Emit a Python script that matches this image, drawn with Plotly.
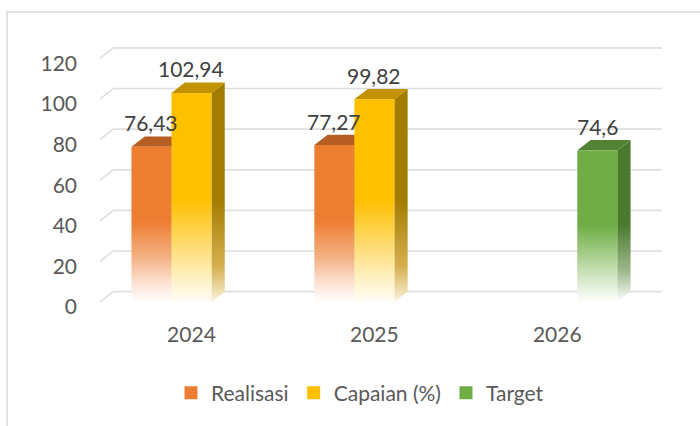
import plotly.graph_objects as go

# ---------------- data ----------------
years = ["2024", "2025", "2026"]
series_names = ["Realisasi", "Capaian (%)", "Target"]
realisasi = [76.43, 77.27, None]
capaian = [102.94, 99.82, None]
target = [None, None, 74.6]
y_ticks = [0, 20, 40, 60, 80, 100, 120]

# ---------------- styles / geometry ----------------
FONT = "Lato, Calibri, 'Noto Sans', sans-serif"
ML, MR, MT, MB = 100, 33, 38, 124
W, H = 700, 426
PW, PH = W - ML - MR, H - MT - MB
PX_PER_CAT = PW / 3.1
PX_PER_UNIT = PH / 130.0
BAR_W = 40.0 / PX_PER_CAT          # bar width in category units
DX = 13.3 / PX_PER_CAT             # 3D depth, x (category units)
DY = 10.4 / PX_PER_UNIT            # 3D depth, y (value units)


def px_to_paper_x(px):
    return (px - ML) / PW


def px_to_paper_y(py):
    return (H - MB - py) / PH


styles = [
    dict(front="#ED7D31", top="#B55D22", side="#A9561D", stop=40,
         scale=[[0, "#FFFFFF"], [0.25, "#FBE0CF"], [0.55, "#F4B183"], [1, "#ED7D31"]],
         sscale=[[0, "#FFFFFF"], [0.4, "#E2B08E"], [1, "#A9561D"]]),
    dict(front="#FFC000", top="#C29200", side="#A47C00", stop=50,
         scale=[[0, "#FFFDF6"], [0.25, "#FFF0BF"], [0.6, "#FFD966"], [1, "#FFC000"]],
         sscale=[[0, "#FBF3DC"], [0.35, "#D6B050"], [1, "#A47C00"]]),
    dict(front="#70AD47", top="#548235", side="#4A7A2E", stop=38,
         scale=[[0, "#FFFFFF"], [0.3, "#D5E8C8"], [0.65, "#A0CA82"], [1, "#70AD47"]],
         sscale=[[0, "#FFFFFF"], [0.4, "#9DB98B"], [1, "#4A7A2E"]]),
]

all_series = [realisasi, capaian, target]
cat_pos = list(range(len(years)))

fig = go.Figure()

for si, (name, vals, st) in enumerate(zip(series_names, all_series, styles)):
    fx, fy, sx, sy, tx, ty = [], [], [], [], [], []
    for c, v in zip(cat_pos, vals):
        if v is None:
            continue
        xl = c - 1.5 * BAR_W + si * BAR_W
        xr = xl + BAR_W
        fx += [xl, xr, xr, xl, xl, None]
        fy += [0, 0, v, v, 0, None]
        sx += [xr, xr + DX, xr + DX, xr, xr, None]
        sy += [0, DY, v + DY, v, 0, None]
        tx += [xl, xr, xr + DX, xl + DX, xl, None]
        ty += [v, v, v + DY, v + DY, v, None]
    fig.add_trace(go.Scatter(
        x=sx, y=sy, mode="lines", fill="toself", line=dict(width=0),
        fillgradient=dict(type="vertical", colorscale=st["sscale"], start=0, stop=st["stop"]),
        showlegend=False, hoverinfo="skip"))
    fig.add_trace(go.Scatter(
        x=tx, y=ty, mode="lines", fill="toself", line=dict(width=0),
        fillcolor=st["top"], showlegend=False, hoverinfo="skip"))
    fig.add_trace(go.Scatter(
        x=fx, y=fy, mode="lines", fill="toself", line=dict(width=0),
        fillgradient=dict(type="vertical", colorscale=st["scale"], start=0, stop=st["stop"]),
        showlegend=False, hoverinfo="skip"))

# legend entries
for name, st in zip(series_names, styles):
    fig.add_trace(go.Scatter(
        x=[None], y=[None], mode="markers", name=name,
        marker=dict(symbol="square", size=13, color=st["front"])))

# data labels
for si, (vals, st) in enumerate(zip(all_series, styles)):
    for c, v in zip(cat_pos, vals):
        if v is None:
            continue
        xc = c - 1.5 * BAR_W + si * BAR_W + BAR_W / 2
        fig.add_annotation(
            x=xc, y=v, text=str(v).replace(".", ","), showarrow=False,
            yanchor="middle", yshift=24,
            font=dict(family=FONT, size=21, color="#404040"))

# back-wall gridlines (with side-wall diagonal)
X0, X1 = -0.5, 2.5
for t in y_ticks:
    fig.add_shape(type="line", xref="x", yref="y", x0=X0, y0=t, x1=X0 + DX, y1=t + DY,
                  line=dict(color="#DEDEDE", width=1.6), layer="below")
    fig.add_shape(type="line", xref="x", yref="y", x0=X0 + DX, y0=t + DY, x1=X1 + DX, y1=t + DY,
                  line=dict(color="#DEDEDE", width=1.6), layer="below")

# chart border
fig.add_shape(type="rect", xref="paper", yref="paper",
              x0=px_to_paper_x(7), y0=px_to_paper_y(12), x1=px_to_paper_x(720), y1=px_to_paper_y(450),
              line=dict(color="#D9D9D9", width=1.5), fillcolor="rgba(0,0,0,0)", layer="below")

fig.update_layout(
    width=W, height=H,
    margin=dict(l=ML, r=MR, t=MT, b=MB),
    paper_bgcolor="white", plot_bgcolor="white",
    font=dict(family=FONT, size=21, color="#595959"),
    showlegend=True,
    legend=dict(orientation="h", x=px_to_paper_x(360), xanchor="center",
                y=px_to_paper_y(393), yanchor="middle",
                font=dict(family=FONT, size=21, color="#595959"), bgcolor="rgba(0,0,0,0)"),
    xaxis=dict(range=[-0.5, 2.6], tickmode="array", tickvals=cat_pos, ticktext=years,
               showgrid=False, zeroline=False, showline=False, ticks="",
               ticklabelstandoff=18, fixedrange=True),
    yaxis=dict(range=[0, 130], tickmode="array", tickvals=y_ticks, ticktext=[str(t) for t in y_ticks],
               showgrid=False, zeroline=False, showline=False, ticks="",
               ticklabelstandoff=22, ticklabelshift=5, fixedrange=True),
)

fig.write_html("out.html", post_script="document.body.style.margin='0';",
               config={"displayModeBar": False})
